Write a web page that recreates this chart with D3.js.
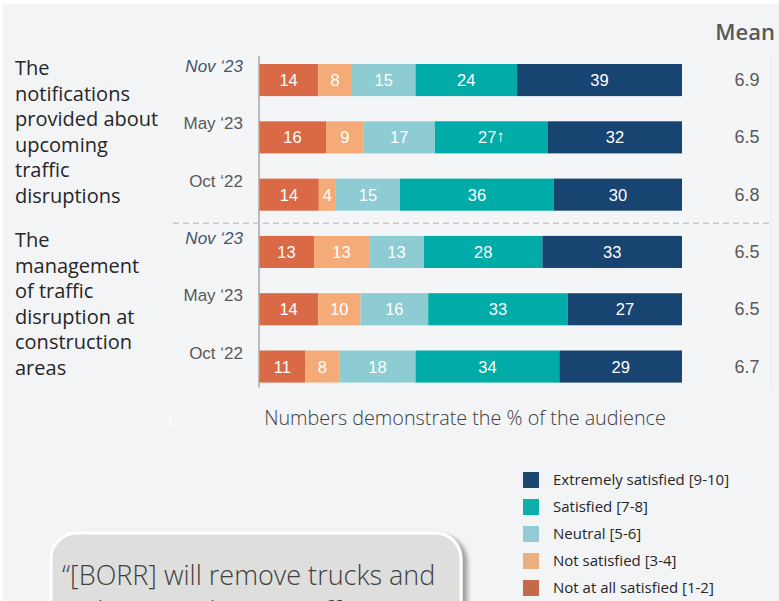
<!DOCTYPE html>
<html>
<head>
<meta charset="utf-8">
<script src="https://cdn.jsdelivr.net/npm/d3@7"></script>
<style>
  body { margin: 0; background: #fff; }
  svg { display: block; }
</style>
</head>
<body>
<div id="chart"></div>
<script>
// Data
const levels = ["Not at all satisfied [1-2]", "Not satisfied [3-4]", "Neutral [5-6]", "Satisfied [7-8]", "Extremely satisfied [9-10]"];
const levelColors = ["#d96a45", "#f5ab78", "#8dccd3", "#00aba8", "#174471"];
const legendColors = ["#c4694a", "#ebb07f", "#93cbd4", "#0bb0a9", "#1d4673"];
const periods = ["Nov \u201823", "May \u201823", "Oct \u201822"];
const questions = [
    ["The", "notifications", "provided about", "upcoming", "traffic", "disruptions"],
    ["The", "management", "of traffic", "disruption at", "construction", "areas"]
];
const notificationsValues = [[14, 8, 15, 24, 39], [16, 9, 17, 27, 32], [14, 4, 15, 36, 30]];
const managementValues = [[13, 13, 13, 28, 33], [14, 10, 16, 33, 27], [11, 8, 18, 34, 29]];
const notificationsMeans = [6.9, 6.5, 6.8];
const managementMeans = [6.5, 6.5, 6.7];
const upArrows = ["0-1-3"]; // group-period-level with a significant rise
const footnote = "Numbers demonstrate the % of the audience";
const quoteLines = ["\u201c[BORR] will remove trucks and", "reduce South Way traffic"];

const groupValues = [notificationsValues, managementValues];
const groupMeans = [notificationsMeans, managementMeans];

// Build rows
const rows = [];
groupValues.forEach((g, gi) => {
    g.forEach((vals, pi) => {
        const total = d3.sum(vals);
        let acc = 0;
        const segs = vals.map((v, li) => {
            const s = { level: li, value: v, x0: acc / total * 100, x1: (acc + v) / total * 100, key: `${gi}-${pi}-${li}` };
            acc += v;
            return s;
        });
        rows.push({ id: `${gi}-${pi}`, group: gi, period: periods[pi], italic: pi === 0, mean: groupMeans[gi][pi], segs });
    });
});

const width = 779, height = 601;
const svg = d3.select("#chart").append("svg")
    .attr("width", width)
    .attr("height", height);

svg.append("rect").attr("x", 3).attr("y", 4).attr("width", width - 3).attr("height", height - 4).attr("fill", "#f3f4f6");

// chart panel
svg.append("rect").attr("x", 173).attr("y", 56).attr("width", 598).attr("height", 332).attr("fill", "#f4f5f7");
svg.append("line").attr("x1", 771).attr("x2", 771).attr("y1", 56).attr("y2", 388).attr("stroke", "#e6e7ea");

// Scales
const xScale = d3.scaleLinear().domain([0, 100]).range([259, 682]);
const yScale = d3.scaleBand()
    .domain(rows.map(d => d.id))
    .range([51.4, 395.2])
    .paddingInner(0.44)
    .paddingOuter(0.22);

const textFont = "'Open Sans', sans-serif";
const numFont = "'Liberation Sans', Arial, sans-serif";

// bars
const rowG = svg.append("g").selectAll("g")
    .data(rows)
    .join("g")
    .attr("transform", d => `translate(0, ${yScale(d.id)})`);

rowG.selectAll("rect")
    .data(d => d.segs)
    .join("rect")
    .attr("x", d => xScale(d.x0))
    .attr("width", d => xScale(d.x1) - xScale(d.x0))
    .attr("height", yScale.bandwidth())
    .attr("fill", d => levelColors[d.level]);

const segText = rowG.selectAll("text.seg")
    .data(d => d.segs)
    .join("text")
    .attr("class", "seg")
    .attr("x", d => (xScale(d.x0) + xScale(d.x1)) / 2)
    .attr("y", yScale.bandwidth() / 2 + 6)
    .attr("text-anchor", "middle")
    .attr("fill", "#fff")
    .style("font-family", numFont)
    .style("font-size", "16.5px")
    .text(d => d.value);
segText.filter(d => upArrows.includes(d.key))
    .append("tspan")
    .attr("font-size", "17px")
    .attr("font-weight", 300)
    .attr("dy", -1)
    .text("\u2191");

// date labels
svg.append("g").selectAll("text")
    .data(rows)
    .join("text")
    .attr("x", 243)
    .attr("y", d => yScale(d.id) + 8)
    .attr("text-anchor", "end")
    .attr("fill", d => d.italic ? "#44546a" : "#595959")
    .style("font-family", numFont)
    .style("font-size", "17px")
    .style("font-style", d => d.italic ? "italic" : "normal")
    .text(d => d.period);

// means
svg.append("g").selectAll("text")
    .data(rows)
    .join("text")
    .attr("x", 747)
    .attr("y", d => yScale(d.id) + yScale.bandwidth() / 2 + 6)
    .attr("text-anchor", "middle")
    .attr("fill", "#595959")
    .style("font-family", numFont)
    .style("font-size", "18px")
    .text(d => d.mean.toFixed(1));

svg.append("text")
    .attr("x", 775).attr("y", 40)
    .attr("text-anchor", "end")
    .attr("fill", "#595959")
    .style("font-family", textFont)
    .style("font-size", "22px")
    .style("font-weight", 600)
    .text("Mean");

// axis line
const firstId = rows[0].id, lastId = rows[rows.length - 1].id;
svg.append("line")
    .attr("x1", xScale(0)).attr("x2", xScale(0))
    .attr("y1", yScale(firstId) - 8)
    .attr("y2", yScale(lastId) + yScale.bandwidth() + 5)
    .attr("stroke", "#a6a6a6")
    .attr("stroke-width", 1.5);

// separator between groups
const sepY = (yScale("0-2") + yScale.bandwidth() + yScale("1-0")) / 2;
svg.append("line")
    .attr("x1", 173).attr("x2", 770)
    .attr("y1", sepY).attr("y2", sepY)
    .attr("stroke", "#c8c8c8")
    .attr("stroke-width", 1.5)
    .attr("stroke-dasharray", "6,4");

// question text
questions.forEach((lines, gi) => {
    svg.append("text")
        .attr("fill", "#262626")
        .style("font-family", textFont)
        .style("font-size", "20px")
        .selectAll("tspan")
        .data(lines)
        .join("tspan")
        .attr("x", 15)
        .attr("y", (d, i) => yScale(`${gi}-0`) + 11 + i * 25.6)
        .text(d => d);
});

// footnote
svg.append("text")
    .attr("x", 168).attr("y", 427)
    .attr("text-anchor", "middle")
    .attr("fill", "#ffffff")
    .style("font-family", textFont)
    .style("font-size", "16px")
    .text("3");

svg.append("text")
    .attr("x", 465).attr("y", 425)
    .attr("text-anchor", "middle")
    .attr("fill", "#404040")
    .style("font-family", textFont)
    .style("font-size", "19.8px")
    .style("font-weight", 300)
    .text(footnote);

// legend (top to bottom: extremely -> not at all)
const legend = svg.append("g").attr("transform", "translate(523, 472)");
const legendItems = legend.selectAll("g")
    .data(d3.range(levels.length).reverse())
    .join("g")
    .attr("transform", (d, i) => `translate(0, ${i * 27})`);
legendItems.append("rect")
    .attr("width", 16).attr("height", 16)
    .attr("fill", d => legendColors[d]);
legendItems.append("text")
    .attr("x", 30).attr("y", 13)
    .attr("fill", "#262626")
    .style("font-family", textFont)
    .style("font-size", "15px")
    .text(d => levels[d]);

// quote box
const defs = svg.append("defs");
const shadow = defs.append("filter").attr("id", "shadow").attr("x", "-10%").attr("y", "-10%").attr("width", "130%").attr("height", "130%");
shadow.append("feDropShadow").attr("dx", 5).attr("dy", 3).attr("stdDeviation", 2).attr("flood-color", "#000").attr("flood-opacity", 0.35);

svg.append("rect")
    .attr("x", 51).attr("y", 533)
    .attr("width", 410).attr("height", 110)
    .attr("rx", 26)
    .attr("fill", "#dededd")
    .attr("stroke", "#ffffff")
    .attr("stroke-width", 3)
    .attr("filter", "url(#shadow)");

svg.append("text")
    .attr("fill", "#404040")
    .style("font-family", textFont)
    .style("font-size", "27px")
    .style("font-weight", 300)
    .selectAll("tspan")
    .data(quoteLines)
    .join("tspan")
    .attr("x", 62)
    .attr("y", (d, i) => 585 + i * 36)
    .text(d => d);
</script>
</body>
</html>
